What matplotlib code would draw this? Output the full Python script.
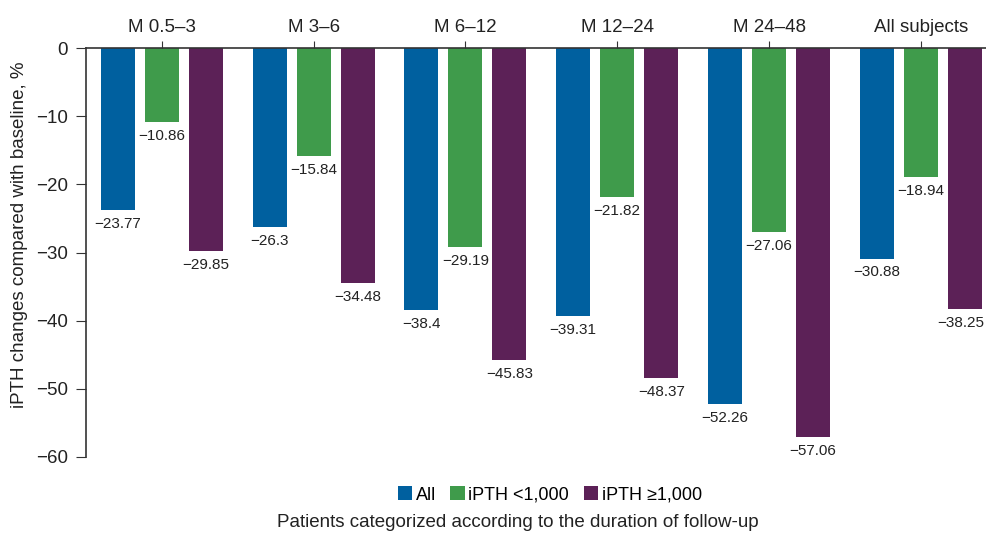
import numpy as np
import matplotlib.pyplot as plt

grupos = ['M 0.5–3', 'M 3–6', 'M 6–12', 'M 12–24', 'M 24–48', 'All subjects']
todos = [-23.77, -26.3, -38.4, -39.31, -52.26, -30.88]
menor = [-10.86, -15.84, -29.19, -21.82, -27.06, -18.94]
maior = [-29.85, -34.48, -45.83, -48.37, -57.06, -38.25]
series = ['All', 'iPTH <1,000', 'iPTH \u22651,000']
cores = ['#00609f', '#3f9b4b', '#5c2157']

plt.rcParams['font.family'] = ['Liberation Sans', 'DejaVu Sans']

fig = plt.figure(figsize=(9.87, 5.34), dpi=100)
ax = fig.add_axes([0.0871, 0.1442, 0.912, 0.7659])

x = np.arange(len(grupos))
larg = 0.224
desl = 0.29
for k, (vals, nome, cor) in enumerate(zip([todos, menor, maior], series, cores)):
    pos = x + (k - 1) * desl
    ax.bar(pos, vals, width=larg, color=cor, label=nome)
    for i, (p, v) in enumerate(zip(pos, vals)):
        dx = -3 if (k == 2 and i == len(vals) - 1) else 0  # ultimo rotulo encosta na borda
        # sinal de menos em vez de hifen
        ax.annotate(('%g' % v).replace('-', '\u2212'), (p, v), xytext=(dx, -5),
                    textcoords='offset points', ha='center', va='top',
                    fontsize=11, color='#222222', annotation_clip=False)

ax.set_xlim(-0.5, 5.43)
ax.set_ylim(-60, 0)
ax.set_yticks(np.arange(-60, 1, 10))
ax.set_yticklabels([str(v).replace('-', '\u2212') for v in range(-60, 1, 10)])
ax.xaxis.tick_top()
ax.set_xticks(x)
ax.set_xticklabels(grupos)
ax.tick_params(axis='both', labelsize=13.5, color='#333333', length=7, labelcolor='#222222')
ax.tick_params(axis='y', pad=6)
ax.tick_params(axis='x', length=5, pad=4)
ax.spines['right'].set_visible(False)
ax.spines['bottom'].set_visible(False)
for s in ['left', 'top']:
    ax.spines[s].set_color('#333333')
    ax.spines[s].set_linewidth(1.2)

ax.set_ylabel('iPTH changes compared with baseline, %', fontsize=13.5, color='#222222')
ax.yaxis.set_label_coords(-0.064, 0.543)
fig.legend(loc='center', bbox_to_anchor=(0.557, 0.073), ncol=3, frameon=False,
           fontsize=13, handlelength=0.8, handleheight=0.8, handletextpad=0.2,
           columnspacing=0.8)
fig.text(0.525, 0.022, 'Patients categorized according to the duration of follow-up',
         ha='center', va='center', fontsize=13.5, color='#222222')

fig.savefig('out.png', dpi=100)
